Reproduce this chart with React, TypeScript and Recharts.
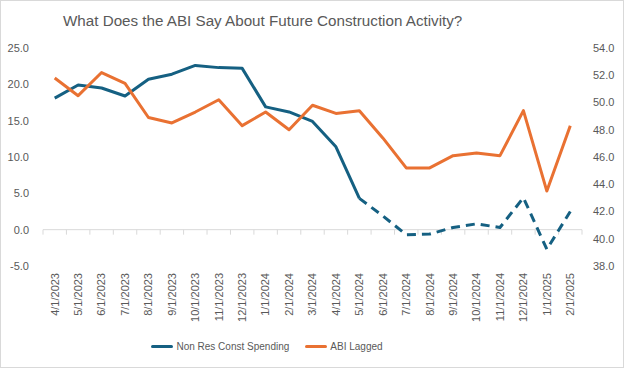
import { Legend, Line, LineChart, ReferenceLine, XAxis, YAxis } from "recharts";

const months = [
  "4/1/2023", "5/1/2023", "6/1/2023", "7/1/2023", "8/1/2023", "9/1/2023",
  "10/1/2023", "11/1/2023", "12/1/2023", "1/1/2024", "2/1/2024", "3/1/2024",
  "4/1/2024", "5/1/2024", "6/1/2024", "7/1/2024", "8/1/2024", "9/1/2024",
  "10/1/2024", "11/1/2024", "12/1/2024", "1/1/2025", "2/1/2025",
];

// Non Res Const Spending (left axis); dashed from 5/1/2024 onward
const spending = [
  18.1, 19.9, 19.5, 18.4, 20.7, 21.4, 22.6, 22.3, 22.2, 16.9, 16.2, 14.9,
  11.4, 4.3, 1.9, -0.7, -0.6, 0.3, 0.8, 0.3, 4.4, -2.7, 2.5,
];
const dashFrom = 13;

// ABI Lagged (right axis)
const abi = [
  51.8, 50.5, 52.2, 51.4, 48.9, 48.5, 49.3, 50.2, 48.3, 49.3, 48.0, 49.8,
  49.2, 49.4, 47.4, 45.2, 45.2, 46.1, 46.3, 46.1, 49.4, 43.5, 48.3,
];

const leftTicks = [-5, 0, 5, 10, 15, 20, 25];
const rightTicks = [38, 40, 42, 44, 46, 48, 50, 52, 54];

const BLUE = "#156082";
const ORANGE = "#E97132";
const GREY = "#595959";
const FONT = "'Liberation Sans', Arial, sans-serif";

const data = months.map((m, i) => ({
  month: m,
  solid: i <= dashFrom ? spending[i] : null,
  dashed: i >= dashFrom ? spending[i] : null,
  abi: abi[i],
}));

function MonthTick({ x, y, payload }: any) {
  return (
    <g transform={`translate(${x},${y})`}>
      <text transform="rotate(-90)" textAnchor="end" dy="0.35em" fontSize={11} fill={GREY} fontFamily={FONT}>
        {payload.value}
      </text>
    </g>
  );
}

// zero line with category tick marks, like Excel's crossing axis
function ZeroAxis(props: any) {
  const { x1, y1, x2 } = props;
  const n = months.length;
  const step = (x2 - x1) / n;
  return (
    <g>
      <line x1={x1} y1={y1} x2={x2} y2={y1} stroke="#d9d9d9" strokeWidth={1} />
      {Array.from({ length: n + 1 }, (_, i) => (
        <line key={i} x1={x1 + i * step} x2={x1 + i * step} y1={y1} y2={y1 + 5} stroke="#d9d9d9" />
      ))}
    </g>
  );
}

function LegendBox() {
  const item = (color: string, label: string) => (
    <span style={{ display: "inline-flex", alignItems: "center", margin: "0 8px" }}>
      <span style={{ width: 22, height: 3, background: color, borderRadius: 2, marginRight: 3 }} />
      <span>{label}</span>
    </span>
  );
  return (
    <div style={{ display: "flex", justifyContent: "center", marginLeft: -90, fontSize: 10, color: GREY, fontFamily: FONT }}>
      {item(BLUE, "Non Res Const Spending")}
      {item(ORANGE, "ABI Lagged")}
    </div>
  );
}

export default function App() {
  return (
    <div
      style={{
        position: "absolute",
        left: 0,
        top: 0,
        width: 624,
        height: 368,
        boxSizing: "border-box",
        border: "1px solid #d9d9d9",
        background: "#fff",
        fontFamily: FONT,
      }}
    >
      <div style={{ position: "absolute", left: 62, top: 11, fontSize: 15.2, color: GREY, whiteSpace: "nowrap" }}>
        What Does the ABI Say About Future Construction Activity?
      </div>
      <LineChart width={622} height={366} data={data} margin={{ top: 47, right: 7, left: 7, bottom: 2 }}>
        <XAxis
          dataKey="month"
          scale="band"
          axisLine={false}
          tickLine={false}
          tickSize={0}
          tickMargin={7}
          interval={0}
          height={75}
          tick={<MonthTick />}
        />
        <YAxis
          yAxisId="left"
          domain={[-5, 25]}
          ticks={leftTicks}
          axisLine={false}
          tickLine={false}
          tickMargin={8}
          width={35}
          tickFormatter={(v: number) => v.toFixed(1)}
          tick={{ fontSize: 11, fill: GREY, fontFamily: FONT }}
        />
        <YAxis
          yAxisId="right"
          orientation="right"
          domain={[38, 54]}
          ticks={rightTicks}
          axisLine={false}
          tickLine={false}
          tickMargin={5}
          width={34}
          tickFormatter={(v: number) => v.toFixed(1)}
          tick={{ fontSize: 11, fill: GREY, fontFamily: FONT }}
        />
        <ReferenceLine yAxisId="left" y={0} shape={<ZeroAxis />} />
        <Legend verticalAlign="bottom" height={24} content={<LegendBox />} />
        <Line
          yAxisId="left"
          dataKey="solid"
          stroke={BLUE}
          strokeWidth={3}
          strokeLinejoin="round"
          dot={false}
          isAnimationActive={false}
        />
        <Line
          yAxisId="left"
          dataKey="dashed"
          stroke={BLUE}
          strokeWidth={3}
          strokeDasharray="9 6"
          strokeLinejoin="round"
          dot={false}
          isAnimationActive={false}
        />
        <Line
          yAxisId="right"
          dataKey="abi"
          stroke={ORANGE}
          strokeWidth={3}
          strokeLinejoin="round"
          dot={false}
          isAnimationActive={false}
        />
      </LineChart>
    </div>
  );
}
